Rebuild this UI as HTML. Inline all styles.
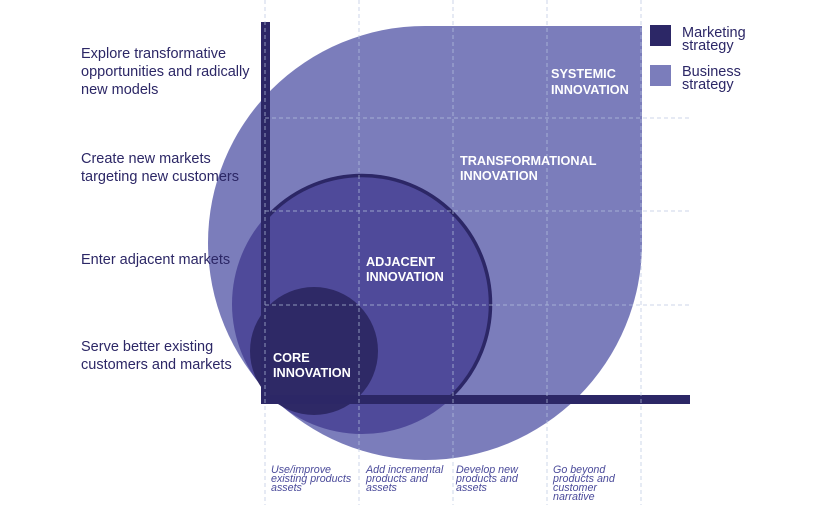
<!DOCTYPE html>
<html><head><meta charset="utf-8"><style>
html,body{margin:0;padding:0;background:#fff;width:833px;height:521px;overflow:hidden}
svg{display:block}
text{font-family:"Liberation Sans",Arial,sans-serif}
</style></head><body>
<svg width="833" height="521" viewBox="0 0 833 521" xmlns="http://www.w3.org/2000/svg">
<defs>
<clipPath id="c1"><rect x="262" y="0" width="600" height="396"/></clipPath>
</defs>
<path d="M208,243 A217,217 0 0 1 425,26 L642,26 L642,243 A217,217 0 0 1 208,243 Z" fill="#7b7dbb"/>
<circle cx="362" cy="304" r="130" fill="#4f4a9a"/>
<circle cx="362" cy="304" r="128.5" fill="none" stroke="#2c2766" stroke-width="3.5" clip-path="url(#c1)"/>
<circle cx="314" cy="351" r="64" fill="#2e2966"/>
<rect x="261" y="22" width="9" height="382" fill="#2c2766"/>
<rect x="261" y="395" width="429" height="9" fill="#2c2766"/>
<g stroke="#b8c6e0" stroke-width="1" stroke-dasharray="4,3" fill="none" opacity="0.7">
<line x1="265" y1="0" x2="265" y2="505"/>
<line x1="359" y1="0" x2="359" y2="505"/>
<line x1="453" y1="0" x2="453" y2="505"/>
<line x1="547" y1="0" x2="547" y2="505"/>
<line x1="641" y1="0" x2="641" y2="505"/>
<line x1="265" y1="118" x2="690" y2="118"/>
<line x1="265" y1="211" x2="690" y2="211"/>
<line x1="265" y1="305" x2="690" y2="305"/>
</g>
<g fill="#2c2766" font-size="14.5">
<text x="81" y="58">Explore transformative</text>
<text x="81" y="76">opportunities and radically</text>
<text x="81" y="94">new models</text>
<text x="81" y="163">Create new markets</text>
<text x="81" y="181">targeting new customers</text>
<text x="81" y="264">Enter adjacent markets</text>
<text x="81" y="351">Serve better existing</text>
<text x="81" y="369">customers and markets</text>
</g>
<g fill="#ffffff" font-size="12.7" font-weight="bold">
<text x="551" y="78">SYSTEMIC</text>
<text x="551" y="94">INNOVATION</text>
<text x="460" y="165">TRANSFORMATIONAL</text>
<text x="460" y="180">INNOVATION</text>
<text x="366" y="266">ADJACENT</text>
<text x="366" y="281">INNOVATION</text>
<text x="273" y="362">CORE</text>
<text x="273" y="377">INNOVATION</text>
</g>
<g fill="#4a4a9a" font-size="10.7" font-style="italic">
<text x="271" y="473">Use/improve</text>
<text x="271" y="482">existing products</text>
<text x="271" y="491">assets</text>
<text x="366" y="473">Add incremental</text>
<text x="366" y="482">products and</text>
<text x="366" y="491">assets</text>
<text x="456" y="473">Develop new</text>
<text x="456" y="482">products and</text>
<text x="456" y="491">assets</text>
<text x="553" y="473">Go beyond</text>
<text x="553" y="482">products and</text>
<text x="553" y="491">customer</text>
<text x="553" y="500">narrative</text>
</g>
<rect x="650" y="25" width="21" height="21" fill="#2c2766"/>
<rect x="650" y="65" width="21" height="21" fill="#7b7dbb"/>
<g fill="#2c2766" font-size="14.5">
<text x="682" y="37">Marketing</text>
<text x="682" y="50">strategy</text>
<text x="682" y="76">Business</text>
<text x="682" y="89">strategy</text>
</g>
</svg>
</body></html>
